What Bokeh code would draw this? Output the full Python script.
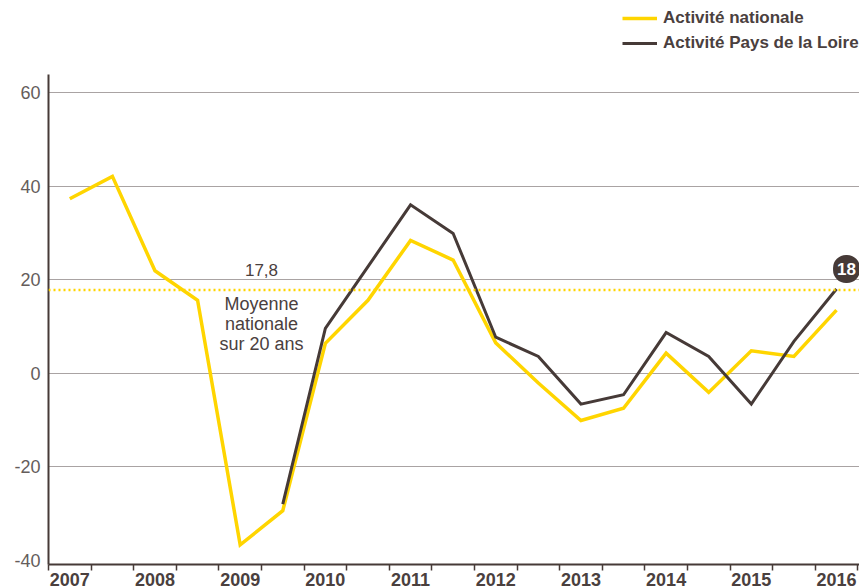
from bokeh.plotting import figure
from bokeh.models import Range1d, FixedTicker, Span, Label, Legend, LegendItem
from bokeh.embed import file_html
from bokeh.resources import INLINE

# ---- data ----
years = list(range(2007, 2017))
year_labels = [str(y) for y in years]
semestres_nat = [y + h for y in years for h in (0.25, 0.75)][:19]
nationale = [37.3, 42.1, 21.9, 15.6, -36.7, -29.4, 6.4, 15.6, 28.4, 24.2,
             6.5, -2.1, -10.1, -7.5, 4.3, -4.1, 4.8, 3.6, 13.5]
semestres_pdl = semestres_nat[5:]
pays_de_la_loire = [-28.0, 9.6, 22.8, 36.0, 29.9, 7.7, 3.6, -6.6, -4.6, 8.7,
                    3.6, -6.6, 6.8, 18.0]
moyenne_20_ans = 17.8
y_ticks = [-40, -20, 0, 20, 40, 60]
y_tick_labels = ["-40", "-20", "0", "20", "40", "60"]

YELLOW = "#FFD500"
DARK = "#463a37"
TEXT = "#4a403e"
GRID = "#a9a3a3"
FONT = "Liberation Sans"

p = figure(width=859, height=588, output_backend="svg", toolbar_location=None,
           x_range=Range1d(2007, 2016.52), y_range=Range1d(-40.9, 79.7),
           min_border_left=48, min_border_right=0, min_border_top=0,
           min_border_bottom=24)
p.outline_line_color = None
p.background_fill_color = "white"
p.border_fill_color = "white"

# x axis
xa = p.xaxis[0]
xa.ticker = FixedTicker(ticks=[y + 0.25 for y in years],
                        minor_ticks=[2007 + 0.5 * i for i in range(21)])
xa.major_label_overrides = {y + 0.25: lab for y, lab in zip(years, year_labels)}
xa.major_tick_line_color = None
xa.major_tick_out = 0
xa.major_tick_in = 0
xa.minor_tick_out = 6
xa.minor_tick_in = 0
xa.minor_tick_line_color = DARK
xa.minor_tick_line_width = 1.5
xa.axis_line_color = DARK
xa.axis_line_width = 2
xa.major_label_standoff = 2
xa.major_label_text_font = FONT
xa.major_label_text_font_style = "bold"
xa.major_label_text_font_size = "18px"
xa.major_label_text_color = TEXT

# y axis
ya = p.yaxis[0]
ya.bounds = (-40.9, 63.9)
ya.ticker = FixedTicker(ticks=y_ticks)
ya.major_label_overrides = dict(zip(y_ticks, y_tick_labels))
ya.major_tick_line_color = None
ya.major_tick_out = 0
ya.major_tick_in = 0
ya.minor_tick_line_color = None
ya.axis_line_color = DARK
ya.axis_line_width = 2
ya.major_label_standoff = 8
ya.major_label_text_font = FONT
ya.major_label_text_font_size = "18px"
ya.major_label_text_color = "#655d5b"

p.xgrid.grid_line_color = None
p.ygrid.ticker = FixedTicker(ticks=[t for t in y_ticks if t > -40])
p.ygrid.grid_line_color = GRID
p.ygrid.grid_line_width = 1

# average line
p.add_layout(Span(location=moyenne_20_ans, dimension="width", line_color=YELLOW,
                  line_width=2.5, line_dash="2 3"))

r_nat = p.line(semestres_nat, nationale, line_color=YELLOW, line_width=3.5,
               line_join="miter")
r_pdl = p.line(semestres_pdl, pays_de_la_loire, line_color=DARK, line_width=3,
               line_join="miter")

# annotations
p.add_layout(Label(x=2009.5, y=moyenne_20_ans, y_offset=14, text="17,8",
                   text_align="center", text_baseline="bottom",
                   text_font=FONT, text_font_size="17px", text_color=TEXT))
p.add_layout(Label(x=2009.5, y=moyenne_20_ans, y_offset=-4,
                   text="Moyenne\nnationale\nsur 20 ans",
                   text_align="center", text_baseline="top",
                   text_line_height=1.0,
                   text_font=FONT, text_font_size="18px", text_color=TEXT))
p.add_layout(Label(x=semestres_pdl[-1], y=pays_de_la_loire[-1], x_offset=10,
                   y_offset=20, text=f"{pays_de_la_loire[-1]:.0f}",
                   text_align="center", text_baseline="middle",
                   text_font=FONT, text_font_style="bold",
                   text_font_size="17px", text_color="white",
                   background_fill_color=DARK, border_radius=13, padding=(4, 8)))

legend = Legend(items=[LegendItem(label="Activité nationale", renderers=[r_nat]),
                       LegendItem(label="Activité Pays de la Loire", renderers=[r_pdl])],
                location=(574, 511), orientation="vertical",
                glyph_width=35, glyph_height=20, label_standoff=6, spacing=5,
                padding=0, margin=0, border_line_color=None,
                background_fill_alpha=0,
                label_text_font=FONT, label_text_font_style="bold",
                label_text_font_size="17px", label_text_color=TEXT)
p.add_layout(legend)

open("out.html", "w").write(file_html(p, INLINE))
